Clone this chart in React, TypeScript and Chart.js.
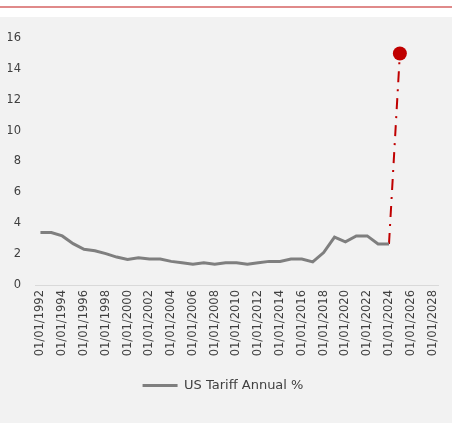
import React, { useEffect, useRef } from "react";
import { Chart, registerables } from "chart.js";

Chart.register(...registerables);

const years: number[] = [];
for (let y = 1992; y <= 2028; y++) years.push(y);

const tariffValues: (number | null)[] = [
  3.4, 3.4, 3.18, 2.68, 2.31, 2.22, 2.03, 1.81, 1.66, 1.76, 1.68, 1.68, 1.53,
  1.44, 1.35, 1.44, 1.35, 1.44, 1.44, 1.35, 1.44, 1.53, 1.53, 1.68, 1.68, 1.5,
  2.1, 3.1, 2.8, 3.18, 3.18, 2.66, 2.66,
];

const projectionStartYear = 2024;
const projectionValues: number[] = [2.66, 15];

const seriesLabel = "US Tariff Annual %";
const yTicks = { min: 0, max: 16, step: 2 };

export default function App() {
  const canvasRef = useRef<HTMLCanvasElement | null>(null);

  useEffect(() => {
    document.body.style.margin = "0";
    const labels = years.map((y) => `01/01/${y}`);
    const tariffData = years.map((_, i) => (i < tariffValues.length ? tariffValues[i] : null));
    const startIdx = years.indexOf(projectionStartYear);
    const projData = years.map((_, i) =>
      i >= startIdx && i < startIdx + projectionValues.length ? projectionValues[i - startIdx] : null
    );
    const lastProjIdx = startIdx + projectionValues.length - 1;

    const tickFont = { family: "'DejaVu Sans', sans-serif", size: 11.5 };
    const legendFont = { family: "'DejaVu Sans', sans-serif", size: 13 };
    const chart = new Chart(canvasRef.current!, {
      type: "line",
      data: {
        labels,
        datasets: [
          {
            label: seriesLabel,
            data: tariffData,
            borderColor: "#7f7f7f",
            backgroundColor: "#7f7f7f",
            borderWidth: 3,
            pointRadius: 0,
            pointHoverRadius: 0,
            tension: 0,
          },
          {
            label: "Projection",
            data: projData,
            borderColor: "#c00000",
            backgroundColor: "#c00000",
            borderWidth: 2,
            borderDash: [11, 7, 2, 7],
            pointRadius: (ctx: any) => (ctx.dataIndex === lastProjIdx ? 7 : 0),
            pointBorderWidth: 0,
            pointBackgroundColor: "#c00000",
            tension: 0,
          },
        ],
      },
      options: {
        animation: false,
        responsive: false,
        layout: { padding: { top: 21, left: 8, right: 14, bottom: 21 } },
        plugins: {
          tooltip: { enabled: false },
          legend: {
            position: "bottom",
            labels: {
              filter: (item: any) => item.datasetIndex === 0,
              usePointStyle: true,
              pointStyle: "line",
              pointStyleWidth: 35,
              boxHeight: 3,
              color: "#404040",
              font: legendFont,
              padding: 10,
            },
          },
        },
        scales: {
          x: {
            offset: true,
            grid: { display: false, drawTicks: false },
            border: { display: true, color: "#d9d9d9", width: 1 },
            ticks: {
              autoSkip: false,
              maxRotation: 90,
              minRotation: 90,
              padding: 5,
              color: "#404040",
              font: tickFont,
              callback: (_v: any, i: number) => (i % 2 === 0 ? labels[i] : ""),
            },
            afterFit: (scale: any) => {
              scale.height = 84;
              scale.paddingLeft = 0;
              scale.paddingRight = 0;
            },
          },
          y: {
            min: yTicks.min,
            max: yTicks.max,
            grid: { display: false, drawTicks: false },
            border: { display: false },
            ticks: { stepSize: yTicks.step, padding: 14, color: "#404040", font: tickFont },
            afterFit: (scale: any) => {
              scale.width = 27;
              scale.paddingTop = 0;
              scale.paddingBottom = 0;
            },
          },
        },
      },
    });
    return () => chart.destroy();
  }, []);

  return (
    <div style={{ position: "relative", width: 452, height: 423, background: "#ffffff", overflow: "hidden" }}>
      <div style={{ position: "absolute", left: 0, top: 6, width: 452, height: 2, background: "#e08a8a" }} />
      <div style={{ position: "absolute", left: 0, top: 17, width: 452, height: 406, background: "#f2f2f2" }}>
        <canvas ref={canvasRef} width={452} height={406} style={{ display: "block" }} />
      </div>
    </div>
  );
}
